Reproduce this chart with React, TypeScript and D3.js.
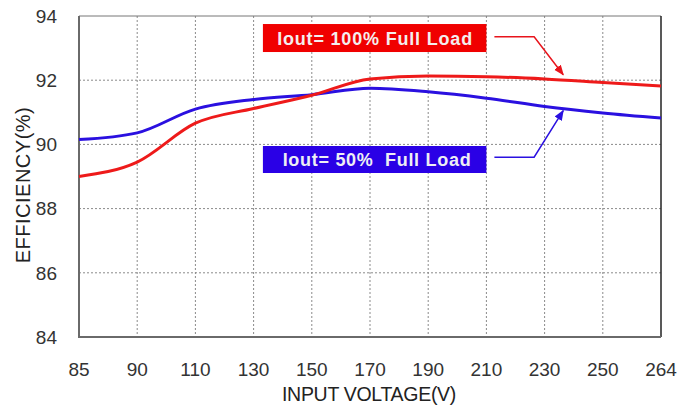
import * as d3 from "d3"

const voltages = ["85", "90", "110", "130", "150", "170", "190", "210", "230", "250", "264"]
const fullLoad = [89.0, 89.45, 90.66, 91.12, 91.53, 92.04, 92.13, 92.11, 92.04, 91.93, 91.82]
const halfLoad = [90.15, 90.36, 91.1, 91.4, 91.55, 91.75, 91.64, 91.44, 91.18, 90.98, 90.82]
const yTicks = [84, 86, 88, 90, 92, 94]

const W = 696
const H = 406
const font = "'Liberation Sans', Arial, sans-serif"

export default function App() {
  const x = d3.scalePoint<string>().domain(voltages).range([79, 661])
  const y = d3.scaleLinear().domain([84, 94]).range([337, 16])
  const step = x.step()

  const line = d3
    .line<number>()
    .x((_, i) => x(voltages[i])!)
    .y((d) => y(d))
    .curve(d3.curveMonotoneX)

  // annotation boxes + arrows, placed relative to the scales
  const boxX0 = x("150")! - step * 0.84
  const boxX1 = x("190")! + step * 1.0
  const elbowX = x("210")! + step * 0.82
  const tipX = x("230")! + step * 0.32

  const redArrow = [
    [boxX1 + 8, y(93.35)],
    [elbowX, y(93.35)],
    [tipX, y(92.17)],
  ] as [number, number][]
  const blueArrow = [
    [boxX1 + 8, y(89.6)],
    [elbowX, y(89.6)],
    [tipX, y(91.05)],
  ] as [number, number][]
  const path = d3.line()

  return (
    <svg
      width={W}
      height={H}
      style={{ position: "absolute", left: 0, top: 0, background: "#fff" }}
      fontFamily={font}
    >
      <defs>
        <marker id="arRed" viewBox="0 0 10 10" refX="9" refY="5" markerWidth="7" markerHeight="7" orient="auto">
          <path d="M0,1 L10,5 L0,9 Z" fill="#e8141c" />
        </marker>
        <marker id="arBlue" viewBox="0 0 10 10" refX="9" refY="5" markerWidth="7" markerHeight="7" orient="auto">
          <path d="M0,1 L10,5 L0,9 Z" fill="#2a10e0" />
        </marker>
      </defs>

      {/* grid */}
      {voltages.slice(1, -1).map((v) => (
        <line key={v} x1={x(v)} x2={x(v)} y1={y(94)} y2={y(84)} stroke="#8a8a8a" strokeWidth={1} strokeDasharray="2,2" />
      ))}
      {yTicks.slice(1, -1).map((t) => (
        <line key={t} x1={x("85")} x2={x("264")} y1={y(t)} y2={y(t)} stroke="#8a8a8a" strokeWidth={1} strokeDasharray="2,2" />
      ))}

      {/* frame */}
      <line x1={79} x2={661} y1={y(94)} y2={y(94)} stroke="#777" strokeWidth={1} />
      <line x1={x("264")} x2={x("264")} y1={y(94)} y2={y(84)} stroke="#222" strokeWidth={1.5} />
      <line x1={x("85")} x2={x("85")} y1={y(94)} y2={y(84) + 1} stroke="#6a6a6a" strokeWidth={2} />
      <line x1={x("85")} x2={x("264")} y1={y(84)} y2={y(84)} stroke="#6a6a6a" strokeWidth={2} />

      {/* tick labels */}
      {yTicks.map((t) => (
        <text key={t} x={57} y={y(t)} dy="0.36em" textAnchor="end" fontSize={19} fill="#333">
          {t}
        </text>
      ))}
      {voltages.map((v) => (
        <text key={v} x={x(v)} y={376} textAnchor="middle" fontSize={19} fill="#333">
          {v}
        </text>
      ))}

      <text x={369} y={401} textAnchor="middle" fontSize={19.5} fill="#222" letterSpacing={-0.3}>
        INPUT VOLTAGE(V)
      </text>
      <text
        transform={`translate(30,${185}) rotate(-90)`}
        textAnchor="middle"
        fontSize={20}
        fill="#222"
        letterSpacing={0.5}
      >
        EFFICIENCY(%)
      </text>

      {/* series */}
      <path d={line(halfLoad) || undefined} fill="none" stroke="#2a10e0" strokeWidth={3} />
      <path d={line(fullLoad) || undefined} fill="none" stroke="#ee1a1a" strokeWidth={3} />

      {/* annotations */}
      <rect x={boxX0} y={y(93.75)} width={boxX1 - boxX0} height={28} fill="#f00000" />
      <text x={(boxX0 + boxX1) / 2} y={y(93.75) + 20.5} textAnchor="middle" fontSize={18} fontWeight="bold" fill="#f4eeee" textLength={195}>
        Iout= 100% Full Load
      </text>
      <rect x={boxX0} y={y(89.95)} width={boxX1 - boxX0} height={27} fill="#2a00e6" />
      <text x={(boxX0 + boxX1) / 2 + 2} y={y(89.95) + 20} textAnchor="middle" fontSize={18} fontWeight="bold" fill="#eeeef4" textLength={188} style={{ whiteSpace: "pre" }}>
        {"Iout= 50%  Full Load"}
      </text>

      <path d={path(redArrow) || undefined} fill="none" stroke="#e8141c" strokeWidth={1.5} markerEnd="url(#arRed)" />
      <path d={path(blueArrow) || undefined} fill="none" stroke="#2a10e0" strokeWidth={1.5} markerEnd="url(#arBlue)" />
    </svg>
  )
}
